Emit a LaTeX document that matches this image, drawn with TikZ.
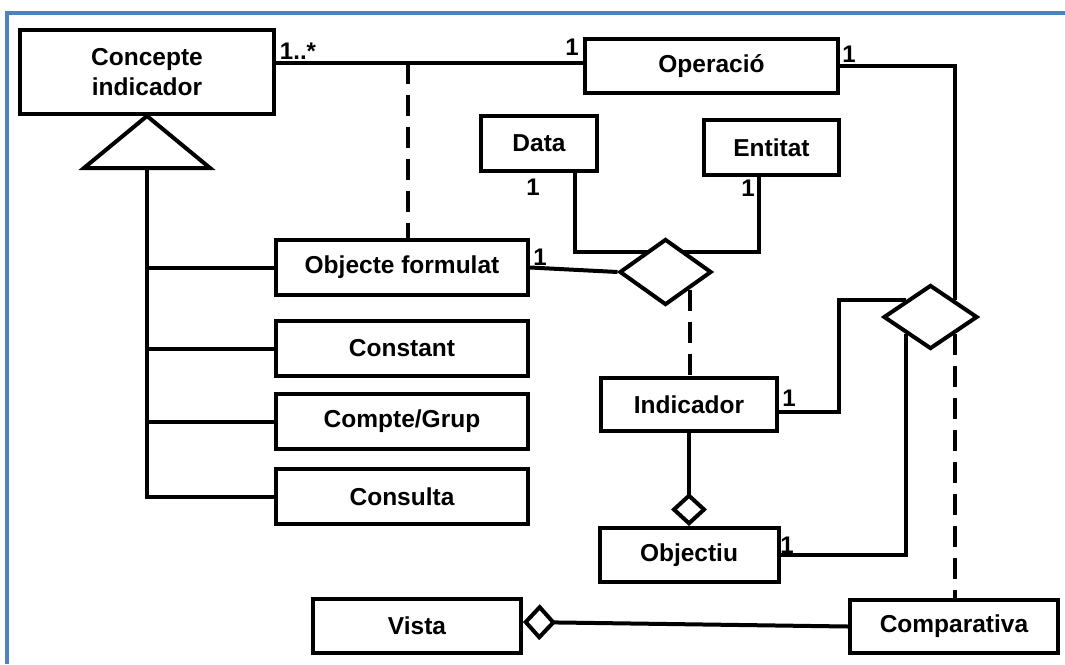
\documentclass[tikz,border=0pt]{standalone}
\usepackage{fontspec}
\setmainfont{Liberation Sans}
\usetikzlibrary{positioning,shapes.geometric,arrows.meta}

\definecolor{frameblue}{RGB}{79,129,189}
\tikzset{
  cls/.style={draw, line width=4pt, fill=white, inner sep=0pt, align=center,
    minimum width=252pt, minimum height=55pt, font=\fontsize{24.5}{30}\selectfont\bfseries},
  rel/.style={diamond, draw, line width=4pt, fill=white, inner sep=0pt},
  lnk/.style={line width=4pt},
  assoc/.style={lnk, dash pattern=on 21pt off 11pt},
  agg/.style={lnk, -{Diamond[open, length=33pt, width=36pt]}},
  mult/.style={inner sep=0pt, font=\fontsize{24}{24}\selectfont\bfseries}
}

\begin{document}
\begin{tikzpicture}[x=1pt, y=-1pt]
\useasboundingbox (0,0) rectangle (1065,664);
\draw[frameblue, line width=3.5pt] (7,664) -- (7,13) -- (1065,13);

\node[cls, minimum width=254pt, minimum height=84pt] (conc) at (147,72) {Concepte\\indicador};
\node[cls] (opf) at (402,267.5) {Objecte formulat};
\node[cls, below=22pt of opf] (cons) {Constant};
\node[cls, below=14pt of cons] (cg) {Compte/Grup};
\node[cls, below=16pt of cg] (clt) {Consulta};
\node[cls, minimum width=253pt, minimum height=54pt] (op) at (711.5,66) {Operació};
\node[cls, minimum width=116pt] (data) at (539,143.5) {Data};
\node[cls, minimum width=135pt] (ent) at (771.5,147.5) {Entitat};
\node[cls, minimum width=176pt, minimum height=53pt] (ind) at (689,404.5) {Indicador};
\node[cls, minimum width=179pt, minimum height=54pt, below=93pt of ind] (obj) {Objectiu};
\node[cls, minimum width=208pt, minimum height=54pt] (vista) at (417,626) {Vista};
\node[cls, minimum width=208pt, minimum height=53pt] (comp) at (954,626.5) {Comparativa};

% herencia
\draw[lnk, fill=white] (conc.south) -- ++(63,52) -- ++(-126,0) -- cycle;
\coordinate (gen) at ([yshift=-52pt]conc.south);
\draw[lnk] (gen) |- (clt.west);
\draw[lnk] (gen |- opf.west) -- (opf.west);
\draw[lnk] (gen |- cons.west) -- (cons.west);
\draw[lnk] (gen |- cg.west) -- (cg.west);

\draw[lnk] ([xshift=36pt]data.south) -- ++(0,79) -| ([xshift=-13pt]ent.south);
\node[rel, minimum width=92pt, minimum height=66pt] (d1) at (665.5,272) {};
\node[rel, minimum width=94pt, minimum height=64pt] (d2) at (930.5,317) {};

\coordinate (a1) at ([yshift=9pt]conc.east);
\draw[lnk] (a1) -- (a1 -| op.west);
\coordinate (m1) at ([xshift=6pt]opf.north);
\draw[assoc] (m1 |- a1) -- (m1);
\draw[lnk] (op.east) -| (d2.north east);

\draw[lnk] (opf.east) -- (d1.west);
\draw[assoc] (d1.south east) -- (d1.south east |- ind.north);
\draw[agg] (ind) -- (obj);
\draw[lnk] ([yshift=-7pt]ind.east) -- ++(60,0) |- (d2.north west);
\draw[lnk] (obj.east) -| (d2.south west);
\draw[assoc] (d2.south east) -- (d2.south east |- comp.north);
\draw[agg] (comp.west) -- ([yshift=4pt]vista.east);

\node[mult] (m-conc) at (298,51) {1..*};
\node[mult] (m-opl) at (572,47) {1};
\node[mult] (m-opr) at (849,54) {1};
\node[mult] (m-data) at (533,187) {1};
\node[mult] (m-ent) at (748,188) {1};
\node[mult] (m-opf) at (540,257) {1};
\node[mult] (m-ind) at (789,398) {1};
\node[mult] (m-obj) at (787,545) {1};
\end{tikzpicture}
\end{document}
